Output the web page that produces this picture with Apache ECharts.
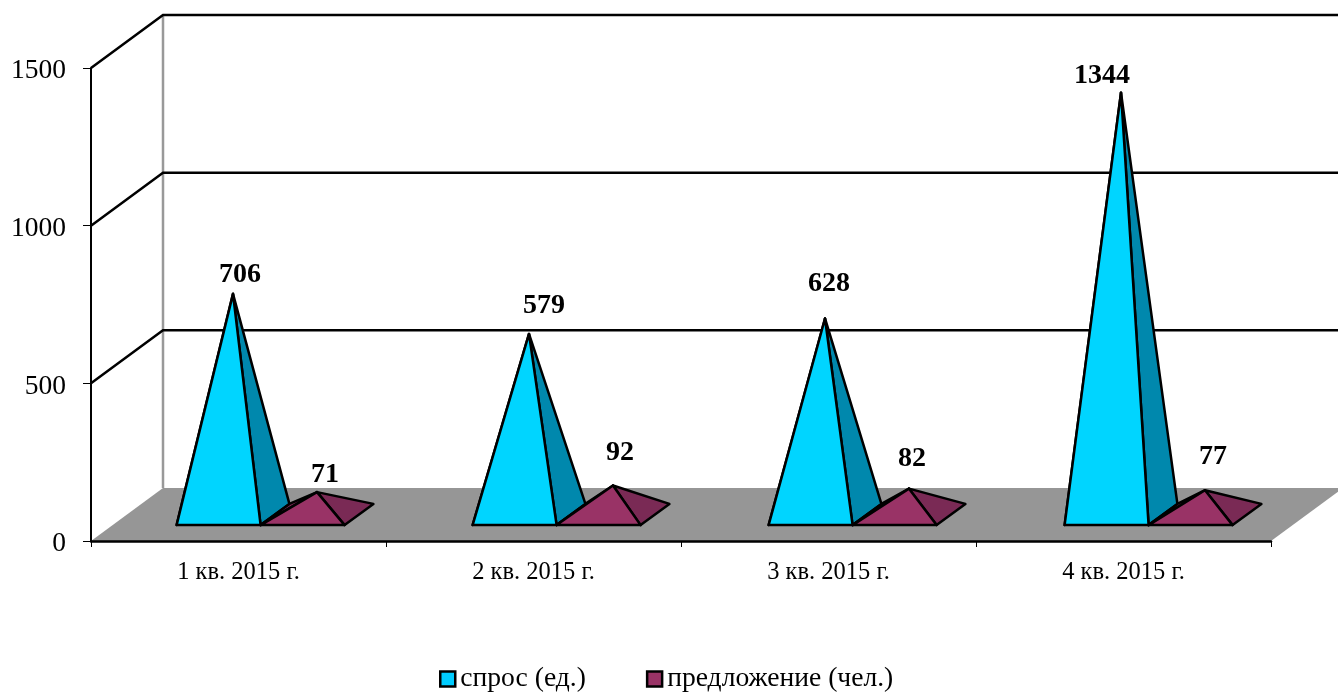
<!DOCTYPE html>
<html>
<head>
<meta charset="utf-8">
<style>
  html, body { margin: 0; padding: 0; background: #fff; }
  #chart { width: 1338px; height: 692px; }
</style>
<script src="https://cdn.jsdelivr.net/npm/echarts@6/dist/echarts.min.js"></script>
</head>
<body>
<div id="chart"></div>
<script>
  const categories = ['1 кв. 2015 г.', '2 кв. 2015 г.', '3 кв. 2015 г.', '4 кв. 2015 г.']
  const demand = [706, 579, 628, 1344]
  const supply = [71, 92, 82, 77]
  const yTicks = [500, 1000, 1500]

  const font = '"Liberation Serif", "Times New Roman", serif'
  // 3d depth of the box, px
  const depthX = 72
  const depthY = -53
  const halfBase = 42

  // hand placed labels like in the original, relative to the apex
  const demandNudge = [[7, -19], [15, -28], [4, -35], [-19, -17]]
  const supplyNudge = [[8, -17], [7, -33], [3, -30], [8, -33]]

  function pyramid(shift, apexDrop, front, side, nudge) {
    return function (params, api) {
      const top = api.coord([api.value(0), api.value(1)])
      const ground = api.coord([api.value(0), 0])
      // pyramids sit 1px per category further right than the ticks
      const cx = ground[0] + shift + params.dataIndex
      const y0 = ground[1]
      const fl = [cx - halfBase + depthX * 0.3, y0 + depthY * 0.3]
      const fr = [cx + halfBase + depthX * 0.3, y0 + depthY * 0.3]
      const bl = [cx - halfBase + depthX * 0.7, y0 + depthY * 0.7]
      const br = [cx + halfBase + depthX * 0.7, y0 + depthY * 0.7]
      const apex = [cx + depthX * 0.5, top[1] + depthY * 0.5 + apexDrop]
      const edge = { stroke: '#000', lineWidth: 2.5, lineJoin: 'round' }
      const n = nudge[params.dataIndex]
      return {
        type: 'group',
        children: [
          { type: 'polygon', shape: { points: [fl, bl, apex] }, style: { fill: side, ...edge } },
          { type: 'polygon', shape: { points: [fr, br, apex] }, style: { fill: side, ...edge } },
          { type: 'polygon', shape: { points: [fl, fr, apex] }, style: { fill: front, ...edge } },
          {
            type: 'text',
            x: apex[0] + n[0],
            y: apex[1] + n[1],
            style: {
              text: String(api.value(1)),
              font: 'bold 28px ' + font,
              fill: '#000',
              align: 'center',
              verticalAlign: 'middle'
            }
          }
        ]
      }
    }
  }

  const chart = echarts.init(document.getElementById('chart'))
  chart.setOption({
    backgroundColor: '#fff',
    animation: false,
    grid: { left: 91, right: 67, top: 68, bottom: 151 },
    legend: {
      left: 434,
      top: 660,
      data: ['спрос (ед.)', 'предложение (чел.)'],
      icon: 'rect',
      itemWidth: 15,
      itemHeight: 15,
      itemGap: 60,
      itemStyle: { borderColor: '#000', borderWidth: 2.5 },
      textStyle: { fontFamily: font, fontSize: 27.6, color: '#000' }
    },
    xAxis: {
      type: 'category',
      data: categories,
      z: 5,
      axisLine: { lineStyle: { color: '#000', width: 2.5 } },
      axisTick: { show: true, alignWithLabel: false, length: 6, lineStyle: { color: '#000', width: 1 } },
      axisLabel: { fontFamily: font, fontSize: 24.5, color: '#000', margin: 19 }
    },
    yAxis: {
      type: 'value',
      min: 0,
      max: 1500,
      interval: 500,
      z: 5,
      axisLine: { show: true, lineStyle: { color: '#000', width: 2 } },
      axisTick: { show: true, length: 8, lineStyle: { color: '#000', width: 1 } },
      axisLabel: {
        fontFamily: font,
        fontSize: 27.5,
        color: '#000',
        margin: 25,
        // labels hang a little under their tick in the original
        verticalAlign: 'top',
        lineHeight: 6,
        formatter: v => String(v)
      },
      splitLine: { show: false }
    },
    series: [
      {
        // floor and left wall
        type: 'custom',
        silent: true,
        clip: false,
        z: 1,
        data: [[0]],
        renderItem: function (params, api) {
          const g = params.coordSys
          const y0 = g.y + g.height
          const x1 = g.x + g.width
          return {
            type: 'group',
            children: [
              {
                type: 'line',
                shape: { x1: g.x + depthX, y1: g.y + depthY, x2: g.x + depthX, y2: y0 + depthY },
                style: { stroke: '#999', lineWidth: 2.5 }
              },
              {
                type: 'polygon',
                shape: { points: [[g.x, y0], [g.x + depthX, y0 + depthY], [x1 + depthX, y0 + depthY], [x1, y0]] },
                style: { fill: '#969696' }
              }
            ]
          }
        }
      },
      {
        // grid lines going round the wall
        type: 'custom',
        silent: true,
        clip: false,
        z: 1,
        data: yTicks.map(v => [v]),
        encode: { y: 0 },
        renderItem: function (params, api) {
          const g = params.coordSys
          const y = api.coord([0, api.value(0)])[1]
          return {
            type: 'polyline',
            shape: { points: [[g.x, y], [g.x + depthX, y + depthY], [g.x + g.width + depthX, y + depthY]] },
            style: { stroke: '#000', lineWidth: 2.5, fill: 'none' }
          }
        }
      },
      {
        name: 'спрос (ед.)',
        type: 'custom',
        clip: false,
        z: 2,
        itemStyle: { color: '#00ccff' },
        encode: { x: 0, y: 1 },
        data: demand.map((v, i) => [i, v]),
        renderItem: pyramid(-41.5, 2, '#00d5ff', '#0088ad', demandNudge)
      },
      {
        name: 'предложение (чел.)',
        type: 'custom',
        clip: false,
        z: 3,
        itemStyle: { color: '#993366' },
        encode: { x: 0, y: 1 },
        data: supply.map((v, i) => [i, v]),
        renderItem: pyramid(42.5, 0, '#993366', '#7a2a55', supplyNudge)
      }
    ]
  })
</script>
</body>
</html>
